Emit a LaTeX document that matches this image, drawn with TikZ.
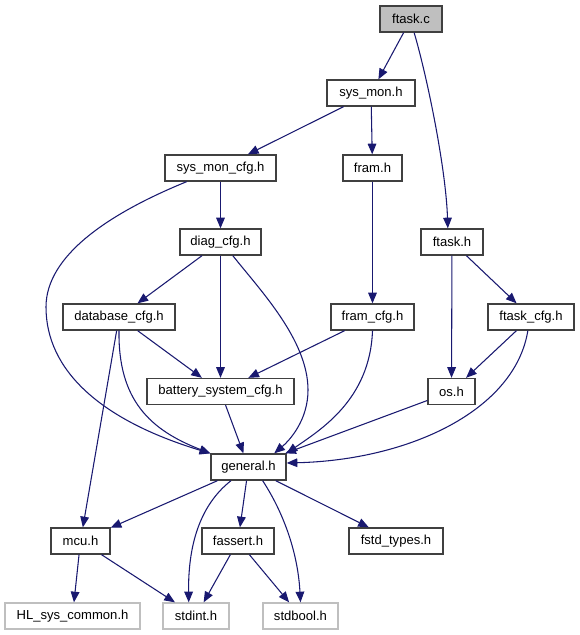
\documentclass[tikz,border=0pt]{standalone}
\usepackage{fontspec}
\setmainfont{Liberation Sans}
\usetikzlibrary{arrows.meta}
\definecolor{edgeblue}{HTML}{191970}
\definecolor{boxgray}{HTML}{404040}
\definecolor{extgray}{HTML}{BFBFBF}

\begin{document}
\begin{tikzpicture}[x=0.75pt, y=-0.75pt, >={Triangle[length=8pt, width=6.5pt]},
    hdr/.style={draw=boxgray, line width=1pt, fill=white, minimum height=19.5pt,
        inner sep=0pt, font=\fontsize{9.8}{11}\selectfont},
    ext/.style={hdr, draw=extgray},
    wd/.style={minimum width=#1*0.75pt},
    inc/.style={->, draw=edgeblue, line width=0.8pt}]
    \useasboundingbox (0,0) rectangle (579,635);

    \node[hdr, wd=62, fill=extgray] (ftaskc) at (411,19) {ftask.c};
    \node[hdr, wd=88] (sysmon) at (371,93) {sys\_mon.h};
    \node[hdr, wd=59] (fram) at (372.5,168) {fram.h};
    \node[hdr, wd=111] (sysmoncfg) at (220.5,168) {sys\_mon\_cfg.h};
    \node[hdr, wd=81] (diag) at (220.5,242) {diag\_cfg.h};
    \node[hdr, wd=62] (ftaskh) at (452,242) {ftask.h};
    \node[hdr, wd=112] (database) at (119,317) {database\_cfg.h};
    \node[hdr, wd=83] (framcfg) at (372.5,317) {fram\_cfg.h};
    \node[hdr, wd=86] (ftaskcfg) at (531,317) {ftask\_cfg.h};
    \node[hdr, wd=147] (battery) at (220.5,391.5) {battery\_system\_cfg.h};
    \node[hdr, wd=47] (os) at (451.5,391.5) {os.h};
    \node[hdr, wd=75] (general) at (248.5,467) {general.h};
    \node[hdr, wd=59] (mcu) at (80.5,541) {mcu.h};
    \node[hdr, wd=72] (fassert) at (238,541) {fassert.h};
    \node[hdr, wd=94] (fstd) at (396,541) {fstd\_types.h};
    \node[ext, wd=135] (halcom) at (72.5,616) {HL\_sys\_common.h};
    \node[ext, wd=66] (stdint) at (196,616) {stdint.h};
    \node[ext, wd=75] (stdbool) at (300.5,616) {stdbool.h};

    \draw[inc] (ftaskc) -- (sysmon);
    \draw[inc] (ftaskc.-77) .. controls (428,80) and (446,170) .. (ftaskh.107);
    \draw[inc] (sysmon) -- (sysmoncfg);
    \draw[inc] (sysmon) -- (fram);
    \draw[inc] (sysmoncfg) -- (diag);
    \draw[inc] (sysmoncfg.202) .. controls (110,213) and (46,255) .. (46,307)
        .. controls (46,370) and (100,420) .. (general.north west);
    \draw[inc] (diag) -- (database);
    \draw[inc] (diag) -- (battery);
    \draw[inc] (diag.-48) .. controls (260,290) and (308,340) .. (308,390)
        .. controls (308,420) and (290,440) .. (general.28);
    \draw[inc] (database) -- (battery);
    \draw[inc] (database.south) .. controls (118,400) and (150,430) .. (general.north west);
    \draw[inc] (database) -- (mcu);
    \draw[inc] (fram) -- (framcfg);
    \draw[inc] (framcfg) -- (battery);
    \draw[inc] (framcfg.south) .. controls (370,400) and (320,430) .. (general.north east);
    \draw[inc] (ftaskh) -- (os);
    \draw[inc] (ftaskh) -- (ftaskcfg);
    \draw[inc] (ftaskcfg) -- (os);
    \draw[inc] (ftaskcfg.257) .. controls (515,410) and (410,460) .. (general.6);
    \draw[inc] (os) -- (general);
    \draw[inc] (battery) -- (general);
    \draw[inc] (general) -- (mcu);
    \draw[inc] (general.218) .. controls (200,505) and (188,545) .. (stdint.118);
    \draw[inc] (general) -- (fassert);
    \draw[inc] (general.-44) .. controls (285,515) and (298,555) .. (stdbool.north);
    \draw[inc] (general) -- (fstd);
    \draw[inc] (mcu) -- (halcom);
    \draw[inc] (mcu) -- (stdint);
    \draw[inc] (fassert) -- (stdint);
    \draw[inc] (fassert) -- (stdbool);
\end{tikzpicture}
\end{document}
